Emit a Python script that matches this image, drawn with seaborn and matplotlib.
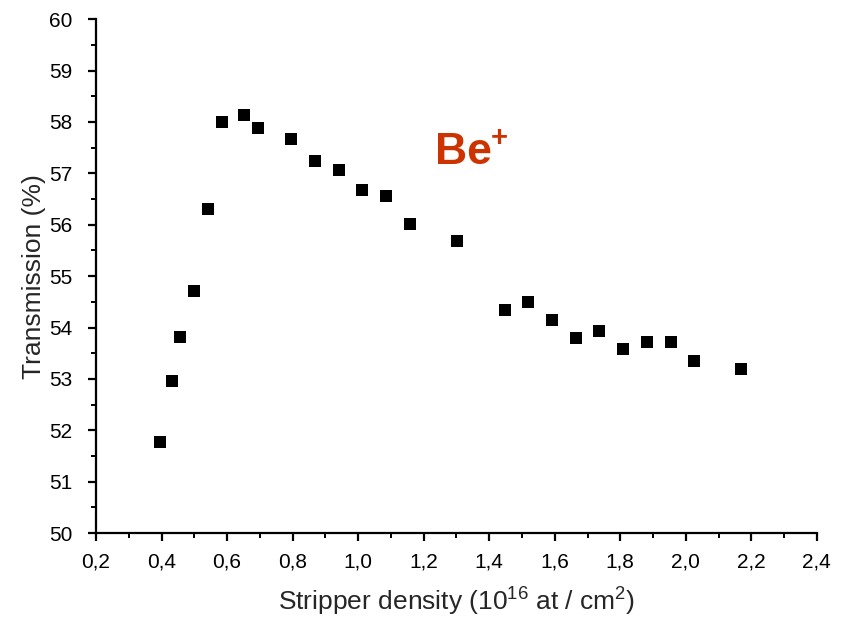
import numpy as np
import pandas as pd
import matplotlib
matplotlib.use("Agg")
import matplotlib.pyplot as plt
from matplotlib.ticker import MultipleLocator, FuncFormatter
import seaborn as sns

# Data
density = [0.395, 0.432, 0.456, 0.499, 0.542, 0.585, 0.652, 0.694, 0.795,
           0.868, 0.942, 1.012, 1.085, 1.158, 1.302, 1.448, 1.518, 1.592,
           1.665, 1.735, 1.808, 1.881, 1.955, 2.025, 2.168]
transmission = [51.77, 52.96, 53.81, 54.71, 56.30, 58.00, 58.13, 57.88, 57.67,
                57.24, 57.06, 56.67, 56.56, 56.01, 55.68, 54.34, 54.49, 54.14,
                53.79, 53.93, 53.58, 53.72, 53.72, 53.35, 53.19]

df = pd.DataFrame({"density": density, "transmission": transmission})

sns.set_style("ticks")
plt.rcParams["font.family"] = ["Liberation Sans", "DejaVu Sans"]
plt.rcParams["mathtext.fontset"] = "custom"
plt.rcParams["mathtext.rm"] = "Liberation Sans"
plt.rcParams["mathtext.it"] = "Liberation Sans"

fig = plt.figure(figsize=(8.5, 6.17), dpi=100)
ax = fig.add_axes([0.113, 0.136, 0.848, 0.833])

sns.scatterplot(x="density", y="transmission", data=df, marker="s", s=85,
                color="black", edgecolor="black", linewidth=0, ax=ax)

ax.set_xlim(0.2, 2.4)
ax.set_ylim(50, 60)
ax.xaxis.set_major_locator(MultipleLocator(0.2))
ax.xaxis.set_minor_locator(MultipleLocator(0.1))
ax.yaxis.set_major_locator(MultipleLocator(1))
ax.yaxis.set_minor_locator(MultipleLocator(0.5))
ax.xaxis.set_major_formatter(FuncFormatter(lambda v, p: f"{v:.1f}".replace(".", ",")))
ax.yaxis.set_major_formatter(FuncFormatter(lambda v, p: f"{v:.0f}"))

sns.despine(ax=ax)
for side in ["left", "bottom"]:
    ax.spines[side].set_linewidth(1.6)
    ax.spines[side].set_color("black")
ax.tick_params(which="major", direction="out", length=6, width=1.6,
               labelsize=15, colors="black")
ax.tick_params(axis="x", which="major", pad=8)
ax.tick_params(axis="y", which="major", pad=11)
ax.tick_params(which="minor", direction="out", length=3.5, width=1.4, colors="black")

ax.set_xlabel("Stripper density (10$^{\\mathrm{16}}$ at / cm$^{\\mathrm{2}}$)",
              fontsize=19, labelpad=10)
ax.set_ylabel("Transmission (%)", fontsize=19, labelpad=2)

ax.text(1.32, 57.41, "Be", color="#cc3300", fontsize=32,
        fontweight="bold", ha="center", va="center")
ax.text(1.43, 57.68, "+", color="#cc3300", fontsize=21,
        fontweight="bold", ha="center", va="center")

fig.savefig("out.png", dpi=100)
